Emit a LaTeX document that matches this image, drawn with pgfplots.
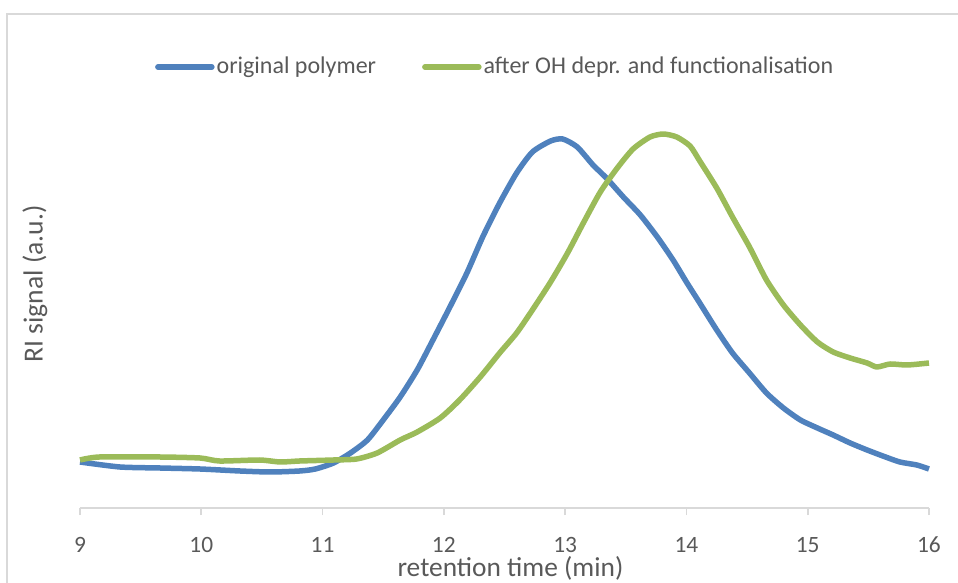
\documentclass[border=0pt]{standalone}
\usepackage{fontspec}
\setmainfont{Carlito}
\usepackage{pgfplots}
\pgfplotsset{compat=1.18}
\definecolor{xlblue}{HTML}{4F81BD}
\definecolor{xlgreen}{HTML}{9BBB59}
\definecolor{txtgray}{HTML}{595959}
\definecolor{axgray}{HTML}{D9D9D9}
\begin{document}
\begin{tikzpicture}
\useasboundingbox (-40pt,-37.5pt) rectangle (439pt,254pt);
\draw[axgray, line width=0.9pt] (-36.5pt,-45pt) rectangle (445pt,247pt);
\begin{axis}[
  scale only axis,
  width=424.5pt, height=204pt,
  xmin=9, xmax=16, ymin=0, ymax=408,
  axis x line*=bottom,
  axis y line*=left,
  y axis line style={draw=none},
  x axis line style={axgray, line width=0.9pt},
  ytick=\empty,
  xtick={9,10,...,16},
  tick align=outside,
  major tick length=3.5pt,
  x tick style={axgray, line width=0.9pt},
  /pgf/number format/assume math mode=true,
  xticklabel style={anchor=center, yshift=-15pt, font=\fontsize{11.7}{13}\selectfont, text=txtgray},
  every axis x label/.style={at={(axis description cs:0.507,-0.149)}, anchor=center, font=\fontsize{13.7}{16}\selectfont, text=txtgray},
  every axis y label/.style={at={(axis description cs:-0.053,0.549)}, anchor=center, rotate=90, font=\fontsize{13.8}{16}\selectfont, text=txtgray},
  xlabel={retention time (min)},
  ylabel={RI signal (a.u.)},
  legend columns=2,
  legend style={at={(axis description cs:0.489,1.081)}, anchor=center, draw=none, fill=none,
    font=\fontsize{12}{14}\selectfont, text=txtgray, inner sep=0pt,
    /tikz/every even column/.append style={column sep=22pt},
    nodes={inner sep=1pt}},
  legend image code/.code={\draw[#1, line width=2.75pt, line cap=round] (0pt,0pt) -- (27pt,0pt);},
  clip=false,
]
\addplot[xlblue, line width=2.75pt, line join=round, smooth, tension=0.4] coordinates {
(9.00,46) (9.33,41) (9.66,40) (9.99,39) (10.32,37) (10.57,36) (10.81,37) (10.94,39)
(11.09,45) (11.23,55) (11.37,68) (11.50,88) (11.64,111) (11.78,138) (11.91,168)
(12.05,201) (12.19,235) (12.32,271) (12.46,305) (12.60,335) (12.73,356) (12.88,367)
(12.98,369) (13.10,361) (13.23,343) (13.34,330) (13.48,311) (13.62,293) (13.76,271)
(13.89,248) (14.00,226) (14.11,205) (14.25,178) (14.38,155) (14.52,135) (14.66,115)
(14.80,100) (14.94,88) (15.08,80) (15.21,73) (15.35,65) (15.49,58) (15.62,52)
(15.76,46) (15.90,43) (16.00,39)
};
\addlegendentry{original polymer}
\addplot[xlgreen, line width=2.75pt, line join=round, smooth, tension=0.4] coordinates {
(9.00,48) (9.16,51) (9.66,51) (9.99,50) (10.15,47) (10.48,48) (10.65,46) (10.81,47)
(11.09,48) (11.28,49) (11.45,55) (11.64,68) (11.78,76) (11.97,90) (12.13,108)
(12.30,131) (12.46,155) (12.60,175) (12.73,198) (12.88,226) (13.02,255) (13.15,285)
(13.29,316) (13.43,340) (13.56,359) (13.70,371) (13.81,374) (13.92,371) (14.03,362)
(14.11,347) (14.25,320) (14.38,291) (14.52,261) (14.66,228) (14.80,203) (14.94,183)
(15.08,166) (15.21,156) (15.35,150) (15.49,145) (15.57,141) (15.68,144) (15.82,143)
(16.00,145)
};
\addlegendentry{after OH depr. and functionalisation}
\end{axis}
\end{tikzpicture}
\end{document}
